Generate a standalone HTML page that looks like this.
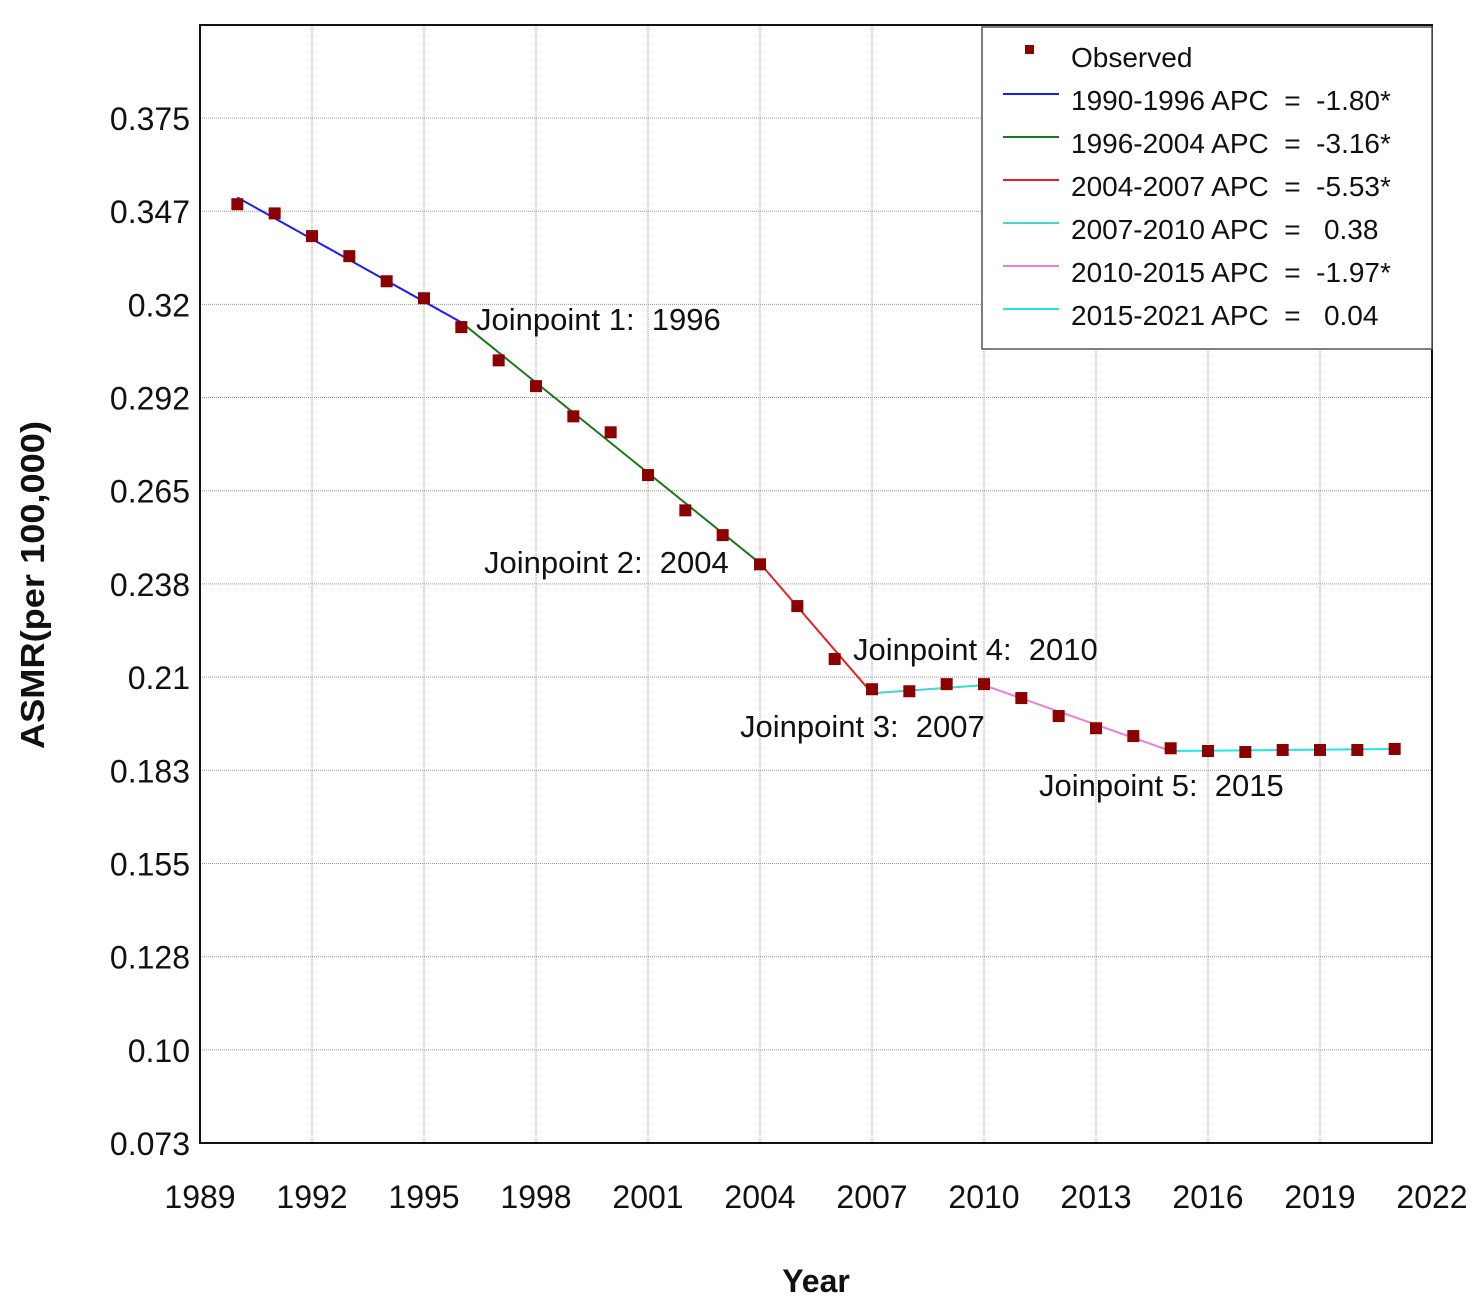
<!DOCTYPE html>
<html><head><meta charset="utf-8"><style>
body{margin:0;background:#fff;}
svg text{font-family:"Liberation Sans",sans-serif;fill:#111;white-space:pre;}
</style></head><body>
<svg id="chart" width="1476" height="1301" viewBox="0 0 1476 1301" xmlns="http://www.w3.org/2000/svg">
<rect width="1476" height="1301" fill="#fff"/>
<g id="grid"></g>
<g id="segs"></g>
<g id="pts"></g>
<rect x="200" y="25" width="1232" height="1118" fill="none" stroke="#111" stroke-width="2"/>
<g id="yticks"></g>
<g id="xticks"></g>
<text transform="translate(44,585) rotate(-90)" text-anchor="middle" font-size="33" font-weight="bold" textLength="328" lengthAdjust="spacingAndGlyphs">ASMR(per 100,000)</text>
<text x="816" y="1292" text-anchor="middle" font-size="32" font-weight="bold">Year</text>
<g id="annots" font-size="31"></g>
<g>
<rect x="982" y="27" width="450" height="322" fill="#fff" stroke="#555" stroke-width="1.5"/>
<g id="legend"></g>
</g>
</svg>
<script>
const years=[1990,1991,1992,1993,1994,1995,1996,1997,1998,1999,2000,2001,2002,2003,2004,2005,2006,2007,2008,2009,2010,2011,2012,2013,2014,2015,2016,2017,2018,2019,2020,2021];
const observed=[0.3496,0.3469,0.3402,0.3343,0.3269,0.3219,0.3134,0.3036,0.2960,0.2871,0.2824,0.2698,0.2594,0.2521,0.2435,0.2312,0.2156,0.2067,0.2061,0.2082,0.2082,0.2041,0.1988,0.1952,0.1929,0.1893,0.1885,0.1882,0.1888,0.1888,0.1888,0.1891];
const joinYears=[1990,1996,2004,2007,2010,2015,2021];
const joinFits=[0.3516,0.3148,0.2438,0.2055,0.2079,0.1885,0.1891];
const segColors=["#1a1aff","#1a7a1a","#e82020","#40d8c8","#e880e0","#20e8e8"];
const segLabels=["1990-1996 APC  =  -1.80*","1996-2004 APC  =  -3.16*","2004-2007 APC  =  -5.53*","2007-2010 APC  =   0.38","2010-2015 APC  =  -1.97*","2015-2021 APC  =   0.04"];
const yTickLabels=["0.073","0.10","0.128","0.155","0.183","0.21","0.238","0.265","0.292","0.32","0.347","0.375"];
const xTickYears=[1989,1992,1995,1998,2001,2004,2007,2010,2013,2016,2019,2022];
const annotLabels=["Joinpoint 1:  1996","Joinpoint 2:  2004","Joinpoint 3:  2007","Joinpoint 4:  2010","Joinpoint 5:  2015"];
const NS="http://www.w3.org/2000/svg";
const yMin=0.073,yStep=(0.375-0.073)/11;
const X=v=>200+(v-1989)*(1232/33);
const Y=v=>1143-(v-yMin)/yStep*93.18;
function el(t,a,p){const e=document.createElementNS(NS,t);for(const k in a)e.setAttribute(k,a[k]);document.getElementById(p).appendChild(e);return e;}
yTickLabels.forEach((l,i)=>{const y=1143-i*93.18;
 if(i>0){const g=el('line',{x1:200,x2:1432,y1:y,y2:y,stroke:'#999','stroke-dasharray':'1,1','stroke-width':1},'grid');
 
 }
 const t=el('text',{x:190,y:y+12,'text-anchor':'end','font-size':32},'yticks');t.textContent=l;
 
 });
xTickYears.forEach(v=>{const x=X(v);
 if(v>1989&&v<2022){const g=el('line',{x1:x,x2:x,y1:25,y2:1143,stroke:'#999','stroke-dasharray':'1,1','stroke-width':1},'grid');
 
 }
 const t=el('text',{x:x,y:1208,'text-anchor':'middle','font-size':32},'xticks');t.textContent=v;
 
 });
for(let i=0;i<segColors.length;i++){
 const s=el('line',{x1:X(joinYears[i]),y1:Y(joinFits[i]),x2:X(joinYears[i+1]),y2:Y(joinFits[i+1]),stroke:segColors[i],'stroke-width':2},'segs');
 
 }
years.forEach((yr,i)=>{const r=el('rect',{x:X(yr)-6,y:Y(observed[i])-6,width:12,height:12,fill:'#8b0000'},'pts');
 
 });
const annotPos=[[476,330],[484,573],[740,737],[853,660],[1039,796]];
annotLabels.forEach((l,i)=>{const t=el('text',{x:annotPos[i][0],y:annotPos[i][1]},'annots');t.textContent=l;
 
 });
const m=el('rect',{x:1025,y:45,width:9,height:9,fill:'#8b0000'},'legend');


const ot=el('text',{x:1071,y:67,'font-size':28},'legend');ot.textContent='Observed';


segLabels.forEach((l,i)=>{const y=94+i*43;
 const ln=el('line',{x1:1003,x2:1059,y1:y,y2:y,stroke:segColors[i],'stroke-width':2},'legend');
 
 
 const t=el('text',{x:1071,y:y+16,'font-size':28},'legend');t.textContent=l;
 
 });
</script>
</body></html>
